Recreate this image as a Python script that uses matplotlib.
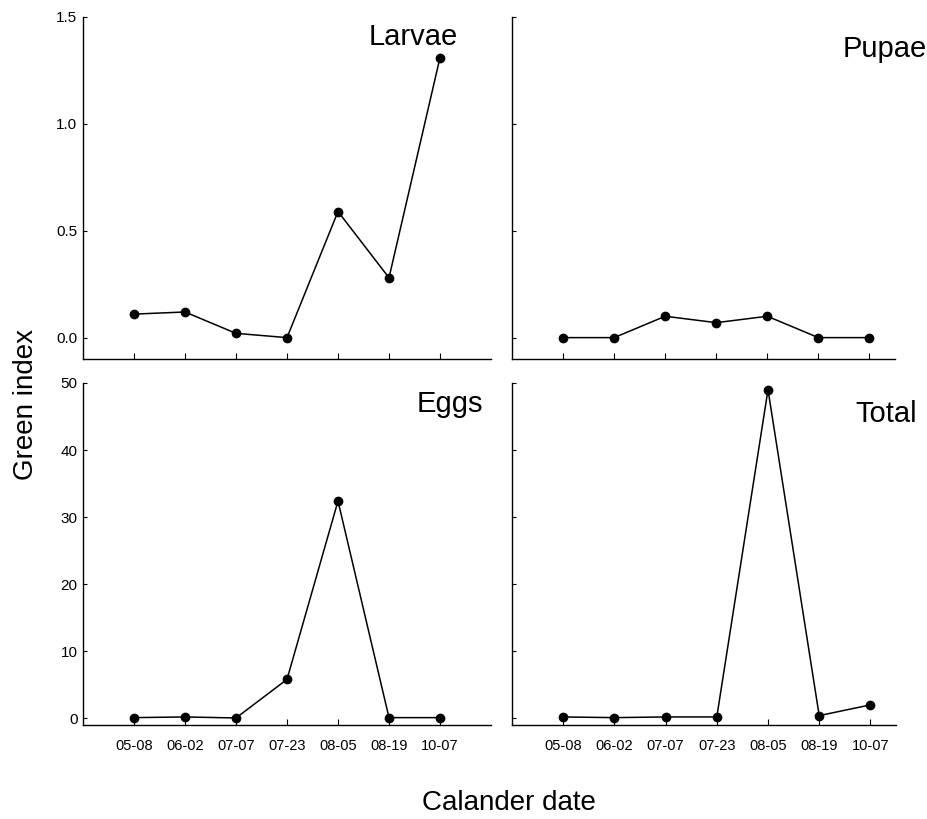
import matplotlib
matplotlib.use('Agg')
from matplotlib import pyplot as plt

dates = ['05-08', '06-02', '07-07', '07-23', '08-05', '08-19', '10-07']
larvae = [0.11, 0.12, 0.02, 0.0, 0.59, 0.28, 1.31]
pupae = [0.0, 0.0, 0.10, 0.07, 0.10, 0.0, 0.0]
eggs = [0.1, 0.2, 0.05, 5.8, 32.4, 0.1, 0.1]
total = [0.2, 0.1, 0.2, 0.2, 49.0, 0.4, 2.0]

plt.rcParams['font.family'] = ['Liberation Sans', 'DejaVu Sans']

W, H = 928, 819
fig = plt.figure(figsize=(W / 100, H / 100), dpi=100)


def box(x0, y0, x1, y1):
    # pixel box -> figure fraction
    return [x0 / W, 1 - y1 / H, (x1 - x0) / W, (y1 - y0) / H]


ax_l = fig.add_axes(box(83, 17, 491, 359))
ax_p = fig.add_axes(box(512, 17, 895, 359))
ax_e = fig.add_axes(box(83, 383, 491, 725))
ax_t = fig.add_axes(box(512, 383, 896, 725))

x = list(range(1, len(dates) + 1))
panels = [(ax_l, larvae), (ax_p, pupae), (ax_e, eggs), (ax_t, total)]
for ax, vals in panels:
    ax.plot(x, vals, color='black', lw=1.1, marker='o', ms=6)
    for s in ['top', 'right']:
        ax.spines[s].set_visible(False)
    for s in ['left', 'bottom']:
        ax.spines[s].set_linewidth(1.0)
    ax.set_xticks(x)
    ax.tick_params(axis='x', direction='in', length=4, width=0.8, labelsize=10.5, pad=10)
    ax.tick_params(axis='y', direction='in', length=3, width=0.8, labelsize=11, pad=4)

for ax in [ax_l, ax_e]:
    ax.set_xlim(0, 8)
for ax in [ax_p, ax_t]:
    ax.set_xlim(0, 7.5)

for ax in [ax_l, ax_p]:
    ax.set_ylim(-0.1, 1.5)
    ax.set_yticks([0.0, 0.5, 1.0, 1.5])
    ax.set_xticklabels([])
ax_l.set_yticklabels(['0.0', '0.5', '1.0', '1.5'])
ax_p.set_yticklabels([])

for ax in [ax_e, ax_t]:
    ax.set_ylim(-1, 50)
    ax.set_yticks([0, 10, 20, 30, 40, 50])
    ax.set_xticklabels(dates)
ax_t.set_yticklabels([])

# panel names
fig.text(458 / W, 1 - 45 / H, 'Larvae', ha='right', va='baseline', fontsize=21)
fig.text(927 / W, 1 - 57 / H, 'Pupae', ha='right', va='baseline', fontsize=21)
fig.text(483 / W, 1 - 412 / H, 'Eggs', ha='right', va='baseline', fontsize=21)
fig.text(917 / W, 1 - 422 / H, 'Total', ha='right', va='baseline', fontsize=21)

fig.text(26 / W, 1 - 405 / H, 'Green index', rotation=90, ha='center', va='center', fontsize=20)
fig.text(509 / W, 1 - 810 / H, 'Calander date', ha='center', va='baseline', fontsize=20)

fig.savefig('out.png', dpi=100)
